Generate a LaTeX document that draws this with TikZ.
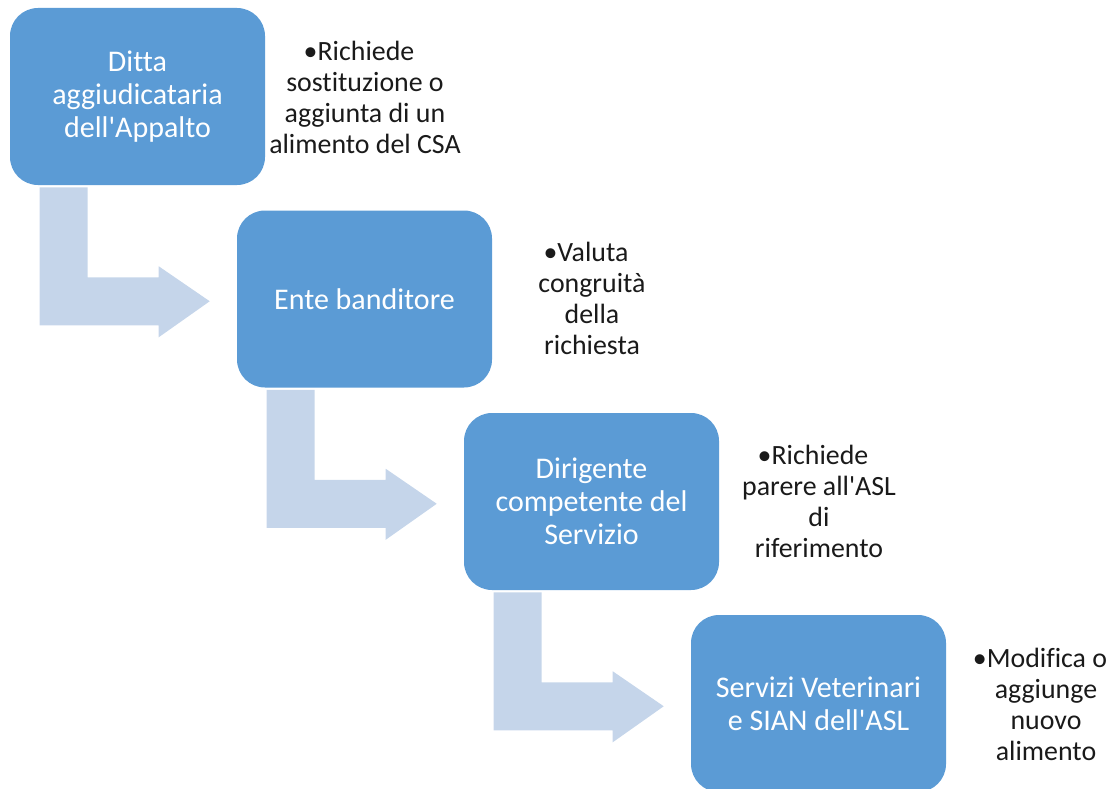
\documentclass[tikz,border=0pt]{standalone}
\usepackage{fontspec}
\setmainfont{Carlito}[Ligatures={TeXOff,NoCommon}]
\usetikzlibrary{calc}
\definecolor{boxblue}{HTML}{5B9BD5}
\definecolor{flowblue}{HTML}{C5D5EA}
\definecolor{sidetext}{HTML}{1A1A1A}
\newcommand\bentflow[1]{%
  \fill[flowblue] ($(#1.south west)+(30,2)$) -- ++(48,0) -- ++(0,90) -- ++(71,0)
    -- ++(0,-11) -- ++(51,35) -- ++(-51,36) -- ++(0,-12) -- ++(-119,0) -- cycle;}
\newcommand\bul[1]{•#1\kern9pt}
\begin{document}
\begin{tikzpicture}[x=0.75pt,y=-0.75pt,
  stepbox/.style={fill=boxblue,draw=none,rounded corners=21pt,
    minimum width=191.25pt,minimum height=132.75pt,inner sep=0pt,
    text=white,align=center,font=\fontsize{22.5pt}{24.75pt}\selectfont},
  sidenote/.style={text=sidetext,align=center,inner sep=0pt,
    font=\fontsize{20.9pt}{23.25pt}\selectfont}]
\useasboundingbox (0,0) rectangle (1112,788);
\clip (0,0) rectangle (1112,788);
\node[stepbox] (b1) at (137.5,96.5) {Ditta\\aggiudicataria\\dell'Appalto};
\node[stepbox] (b2) at (364.5,299) {Ente banditore};
\node[stepbox] (b3) at (591.5,501.5) {Dirigente\\competente del\\Servizio};
\node[stepbox] (b4) at (818.5,703.5) {Servizi Veterinari\\e SIAN dell'ASL};
\bentflow{b1}
\bentflow{b2}
\bentflow{b3}
\node[sidenote] (t1) at (365,97) {\bul{Richiede}\\sostituzione o\\aggiunta di un\\alimento del CSA};
\node[sidenote] (t2) at (592,298) {\bul{Valuta}\\congruità\\della\\richiesta};
\node[sidenote] (t3) at (819,501) {\bul{Richiede}\\parere all'ASL\\di\\riferimento};
\node[sidenote] (t4) at (1046,704) {\bul{Modifica o}\\aggiunge\\nuovo\\alimento};
\end{tikzpicture}
\end{document}
